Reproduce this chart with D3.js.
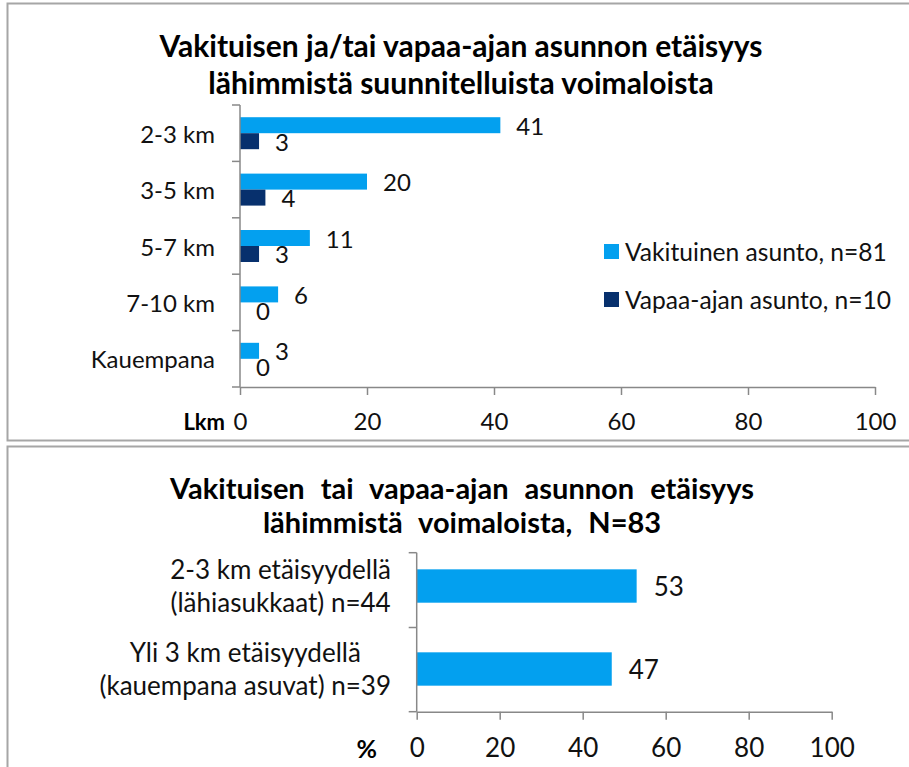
<!DOCTYPE html>
<html>
<head>
<meta charset="utf-8">
<script src="https://cdn.jsdelivr.net/npm/d3@7"></script>
<style>
  html, body { margin: 0; padding: 0; background: #fff; }
  svg { display: block; font-family: Lato, "Open Sans", sans-serif; }
</style>
</head>
<body>
<svg id="chart" width="909" height="767"></svg>
<script>
// ---------- Data ----------
const title1 = ["Vakituisen ja/tai vapaa-ajan asunnon etäisyys", "lähimmistä suunnitelluista voimaloista"];
const categories1 = ["2-3 km", "3-5 km", "5-7 km", "7-10 km", "Kauempana"];
const seriesNames1 = ["Vakituinen asunto, n=81", "Vapaa-ajan asunto, n=10"];
const vakituinen = [41, 20, 11, 6, 3];
const vapaaAjan = [3, 4, 3, 0, 0];
const ticks1 = [0, 20, 40, 60, 80, 100];
const axisLabel1 = "Lkm";

const title2 = ["Vakituisen tai vapaa-ajan asunnon etäisyys", "lähimmistä voimaloista, N=83"];
const categories2 = [["2-3 km etäisyydellä", "(lähiasukkaat) n=44"], ["Yli 3 km etäisyydellä", "(kauempana asuvat) n=39"]];
const values2 = [53, 47];
const ticks2 = [0, 20, 40, 60, 80, 100];
const axisLabel2 = "%";

// ---------- Styles ----------
const colLight = "#03A0EF";
const colDark = "#07306D";
const axisCol = "#888888";
const fs = 24;
const fs2 = 26;

const svg = d3.select("#chart");

// panel frames
svg.append("rect").attr("x", 7.5).attr("y", 3.5).attr("width", 940).attr("height", 437)
  .attr("fill", "none").attr("stroke", "#a6a6a6").attr("stroke-width", 2);
svg.append("rect").attr("x", 7.5).attr("y", 446.5).attr("width", 940).attr("height", 400)
  .attr("fill", "none").attr("stroke", "#a6a6a6").attr("stroke-width", 2);

// ================= Chart 1 =================
const g1 = svg.append("g");
const x1 = d3.scaleLinear().domain([0, 100]).range([240, 875]);
const y1 = d3.scaleBand().domain(categories1).range([105, 387]).paddingInner(0.433).paddingOuter(0.2165);
const ys1 = d3.scaleBand().domain(seriesNames1).range([0, y1.bandwidth()]);
const data1 = categories1.map((c, i) => ({ c, vals: [vakituinen[i], vapaaAjan[i]] }));

// title
g1.selectAll("text.title").data(title1).join("text")
  .attr("class", "title")
  .attr("x", 461).attr("y", (d, i) => 57 + i * 37)
  .attr("text-anchor", "middle").attr("font-weight", "bold").attr("font-size", 30)
  .text(d => d);

// bars
const groups1 = g1.selectAll("g.cat").data(data1).join("g").attr("class", "cat")
  .attr("transform", d => `translate(0,${y1(d.c)})`);
groups1.selectAll("rect").data(d => d.vals.map((v, j) => ({ v, s: seriesNames1[j], j }))).join("rect")
  .attr("x", x1(0)).attr("y", d => ys1(d.s))
  .attr("width", d => x1(d.v) - x1(0)).attr("height", ys1.bandwidth())
  .attr("fill", d => d.j === 0 ? colLight : colDark);
groups1.selectAll("text").data(d => d.vals.map((v, j) => ({ v, s: seriesNames1[j], j }))).join("text")
  .attr("x", d => x1(d.v) + 16).attr("y", d => ys1(d.s) + ys1.bandwidth() / 2)
  .attr("dominant-baseline", "central").attr("font-size", fs).attr("fill", "#111")
  .text(d => d.v);

// y axis (category)
const r1 = y1.range();
const bounds1 = d3.range(categories1.length + 1).map(i => r1[0] + i * (r1[1] - r1[0]) / categories1.length);
g1.append("line").attr("x1", x1(0)).attr("x2", x1(0)).attr("y1", r1[0]).attr("y2", r1[1])
  .attr("stroke", axisCol).attr("stroke-width", 1.5);
g1.selectAll("line.ytick").data(bounds1).join("line").attr("class", "ytick")
  .attr("x1", x1(0) - 8).attr("x2", x1(0)).attr("y1", d => d).attr("y2", d => d)
  .attr("stroke", axisCol).attr("stroke-width", 1.5);
g1.selectAll("text.ylab").data(categories1).join("text").attr("class", "ylab")
  .attr("x", x1(0) - 25).attr("y", d => y1(d) + y1.bandwidth() / 2)
  .attr("text-anchor", "end").attr("dominant-baseline", "central").attr("font-size", fs).attr("fill", "#111")
  .text(d => d);

// x axis
const ax1 = g1.append("g").attr("transform", `translate(0,${r1[1]})`)
  .call(d3.axisBottom(x1).tickValues(ticks1).tickSize(8).tickPadding(18).tickSizeOuter(0));
ax1.select(".domain").attr("stroke", axisCol).attr("stroke-width", 1.5);
ax1.selectAll(".tick line").attr("stroke", axisCol).attr("stroke-width", 1.5);
ax1.selectAll(".tick text").attr("font-size", fs).attr("font-family", "Lato").attr("fill", "#111");
g1.append("text").attr("x", 225).attr("y", 430).attr("text-anchor", "end")
  .attr("font-weight", "bold").attr("font-size", 22).text(axisLabel1);

// legend
const leg = g1.append("g").attr("transform", "translate(604,244)");
const legItems = leg.selectAll("g").data(seriesNames1).join("g")
  .attr("transform", (d, i) => `translate(0,${i * 48})`);
legItems.append("rect").attr("width", 15).attr("height", 15)
  .attr("fill", (d, i) => i === 0 ? colLight : colDark);
legItems.append("text").attr("x", 21).attr("y", 7.5).attr("dominant-baseline", "central")
  .attr("font-size", 24.6).attr("fill", "#111").text(d => d);

// ================= Chart 2 =================
const g2 = svg.append("g");
const x2 = d3.scaleLinear().domain([0, 100]).range([416.7, 831.7]);
const cat2Keys = categories2.map(d => d.join(" "));
const y2 = d3.scaleBand().domain(cat2Keys).range([552.7, 711.7])
  .paddingInner(0.598).paddingOuter(0.257).align(0.39);

g2.selectAll("text.title").data(title2).join("text")
  .attr("class", "title")
  .attr("x", 462).attr("y", (d, i) => 499 + i * 34)
  .attr("text-anchor", "middle").attr("font-weight", "bold").attr("font-size", 29)
  .attr("word-spacing", 9)
  .text(d => d);

g2.selectAll("rect.bar").data(values2).join("rect").attr("class", "bar")
  .attr("x", x2(0)).attr("y", (d, i) => y2(cat2Keys[i]))
  .attr("width", d => x2(d) - x2(0)).attr("height", y2.bandwidth())
  .attr("fill", colLight);
g2.selectAll("text.val").data(values2).join("text").attr("class", "val")
  .attr("x", d => x2(d) + 17).attr("y", (d, i) => y2(cat2Keys[i]) + y2.bandwidth() / 2)
  .attr("dominant-baseline", "central").attr("font-size", fs2).attr("fill", "#111")
  .text(d => d);

// y axis
const r2 = y2.range();
const centers2 = cat2Keys.map(k => y2(k) + y2.bandwidth() / 2);
const bounds2 = [r2[0], (centers2[0] + centers2[1]) / 2, r2[1]];
g2.append("line").attr("x1", x2(0)).attr("x2", x2(0)).attr("y1", r2[0]).attr("y2", r2[1])
  .attr("stroke", axisCol).attr("stroke-width", 1.5);
g2.selectAll("line.ytick").data(bounds2).join("line").attr("class", "ytick")
  .attr("x1", x2(0) - 8).attr("x2", x2(0)).attr("y1", d => d).attr("y2", d => d)
  .attr("stroke", axisCol).attr("stroke-width", 1.5);

// category labels: block right-aligned, lines centered in block
categories2.forEach((lines, i) => {
  const c = centers2[i];
  const gl = g2.append("g");
  const texts = gl.selectAll("text").data(lines).join("text")
    .attr("y", (d, j) => c - 7 + j * 33)
    .attr("font-size", fs2).attr("fill", "#111").attr("text-anchor", "middle")
    .text(d => d);
  const maxW = d3.max(texts.nodes(), n => n.getComputedTextLength());
  texts.attr("x", 391 - maxW / 2);
});

const ax2 = g2.append("g").attr("transform", `translate(0,${r2[1]})`)
  .call(d3.axisBottom(x2).tickValues(ticks2).tickSize(8).tickPadding(19).tickSizeOuter(0));
ax2.select(".domain").attr("stroke", axisCol).attr("stroke-width", 1.5);
ax2.selectAll(".tick line").attr("stroke", axisCol).attr("stroke-width", 1.5);
ax2.selectAll(".tick text").attr("font-size", fs2).attr("font-family", "Lato").attr("fill", "#111");
g2.append("text").attr("x", 377).attr("y", 758).attr("text-anchor", "end")
  .attr("font-weight", "bold").attr("font-size", 25).text(axisLabel2);
</script>
</body>
</html>
